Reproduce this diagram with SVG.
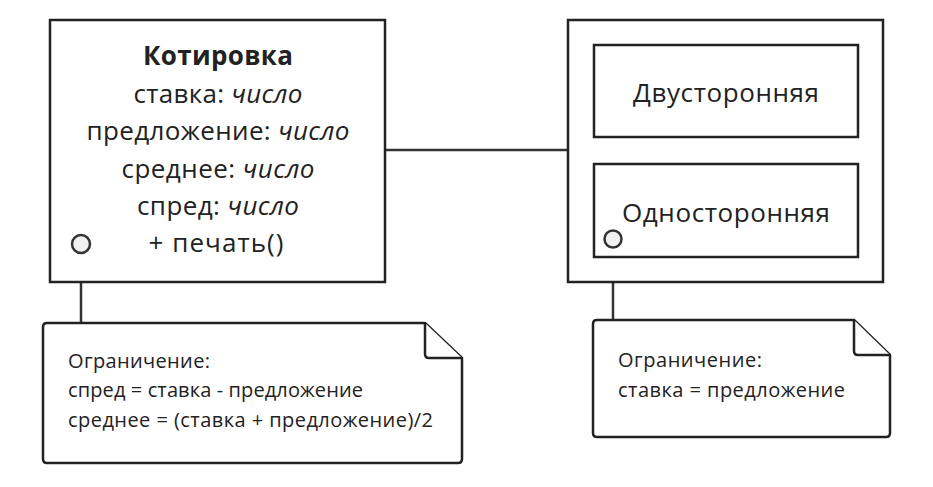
<svg xmlns="http://www.w3.org/2000/svg" width="933" height="487" viewBox="0 0 933 487">
<style>
.box{fill:#fff;stroke:#222;stroke-width:2.5}
.note{fill:#fff;stroke:#222;stroke-width:2.5;stroke-linejoin:round}
.t{font-family:"Open Sans","Noto Sans",sans-serif;fill:#222}
.c{font-size:26px;text-anchor:middle}
.n{font-size:20px}
.ln{stroke:#333;stroke-width:2.5;fill:none}
.port{fill:#f0f0f0;stroke:#333;stroke-width:2.5}
</style>
<rect width="933" height="487" fill="#fff"/>
<g id="connectors">
<line class="ln" x1="385" y1="150" x2="568" y2="150"/>
<line class="ln" x1="81" y1="254" x2="81" y2="323"/>
<line class="ln" x1="613" y1="248" x2="613" y2="320"/>
</g>
<g id="quote">
<rect class="box" x="50" y="20" width="335" height="262"/>
<text class="t c" x="218" y="65" font-weight="bold" textLength="150">Котировка</text>
<text class="t c" x="218" y="103" textLength="169">ставка: <tspan font-style="italic">число</tspan></text>
<text class="t c" x="218" y="140" textLength="263">предложение: <tspan font-style="italic">число</tspan></text>
<text class="t c" x="218" y="178" textLength="193">среднее: <tspan font-style="italic">число</tspan></text>
<text class="t c" x="218" y="215" textLength="162">спред: <tspan font-style="italic">число</tspan></text>
<text class="t c" x="216" y="252" textLength="135">+ печать()</text>
</g>
<g id="types">
<rect class="box" x="568" y="20" width="315" height="262"/>
</g>
<g id="two-sided">
<rect class="box" x="594" y="45" width="264" height="92"/>
<text class="t c" x="726" y="102" textLength="186">Двусторонняя</text>
</g>
<g id="one-sided">
<rect class="box" x="594" y="164" width="264" height="93"/>
<text class="t c" x="726" y="222" textLength="208">Односторонняя</text>
</g>
<g id="port-left"><circle class="port" cx="81" cy="244" r="9"/></g>
<g id="port-right"><circle class="port" cx="613" cy="239" r="8.5"/></g>
<g id="note-left">
<path class="note" d="M47,323 H425 L462,358 V459 Q462,463 458,463 H47 Q43,463 43,459 V327 Q43,323 47,323 Z"/>
<path class="note" d="M425,323 V354 Q425,358 429,358 H462"/>
<text class="t n" x="68" y="368" textLength="142">Ограничение:</text>
<text class="t n" x="68" y="397" textLength="295">спред = ставка - предложение</text>
<text class="t n" x="68" y="427" textLength="365">среднее = (ставка + предложение)/2</text>
</g>
<g id="note-right">
<path class="note" d="M597,320 H854 L890,355 V433 Q890,437 886,437 H597 Q593,437 593,433 V324 Q593,320 597,320 Z"/>
<path class="note" d="M854,320 V351 Q854,355 858,355 H890"/>
<text class="t n" x="618" y="367" textLength="144">Ограничение:</text>
<text class="t n" x="618" y="397" textLength="227">ставка = предложение</text>
</g>
</svg>
